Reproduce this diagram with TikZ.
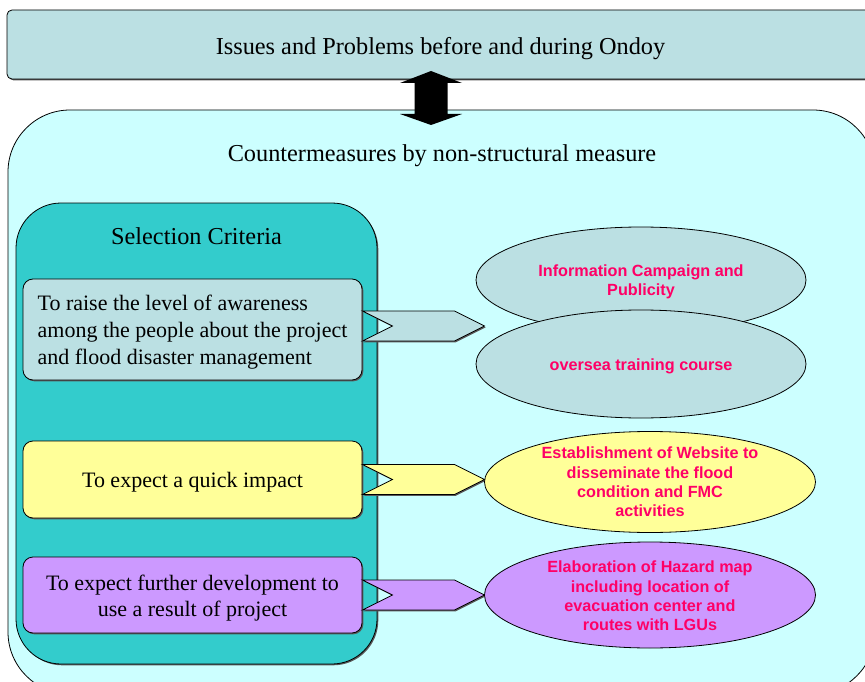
\documentclass[tikz,border=0pt]{standalone}
\usepackage{fontspec}
\setmainfont{Liberation Serif}
\newfontfamily\ellfont{Liberation Sans}
\usetikzlibrary{shapes.geometric,shadows,calc}

\definecolor{steelpale}{HTML}{BBE0E3}
\definecolor{paleaqua}{HTML}{CCFFFF}
\definecolor{tealbox}{HTML}{33CCCC}
\definecolor{lemon}{HTML}{FFFF99}
\definecolor{lilac}{HTML}{CC99FF}
\definecolor{hotred}{HTML}{FF0066}

\begin{document}
\begin{tikzpicture}[x=1pt,y=-1pt,
  shade box/.style={drop shadow={shadow xshift=1.3pt,shadow yshift=-1.3pt,fill=black!65,opacity=1}},
  panel/.style={draw=black,line width=0.8pt,rounded corners=#1,inner sep=0pt},
  headtext/.style={font=\fontsize{24.3}{28}\selectfont,anchor=base,inner sep=0pt},
  crittext/.style={font=\fontsize{22}{27}\selectfont,inner sep=0pt,yshift=-3pt},
  oval/.style={ellipse,draw=black,line width=0.8pt,inner sep=0pt,minimum width=330pt},
  ovaltext/.style={font=\ellfont\bfseries\fontsize{16.2}{19.2}\selectfont,text=hotred,align=center,inner sep=0pt},
  chev/.style={draw=black,line width=0.8pt,line join=miter,shade box}]

% page frame
\path[use as bounding box,clip] (0,0) rectangle (865,682);
\fill[white] (0,0) rectangle (865,682);

% heading band
\node[panel=5pt,shade box,fill=steelpale,minimum width=867pt,minimum height=69pt] (issues) at (440.5,44.5) {};
\node[headtext] (issuesT) at (440.5,54.5) {Issues and Problems before and during Ondoy};

% large countermeasure panel
\node[panel=62pt,fill=paleaqua,minimum width=867pt,minimum height=584pt] (outer) at (441.5,402) {};
\node[headtext] (outerT) at (442,161) {Countermeasures by non-structural measure};

% two-way arrow between heading and panel
\coordinate (arrUp) at (431,71);
\coordinate (arrDn) at (431,125);
\fill[black] (arrUp) -- ++(31,12) -- ++(-14.5,0) -- ++(0,31) -- ++(14.5,0)
  -- (arrDn) -- ++(-31,-11) -- ++(14.5,0) -- ++(0,-31) -- ++(-14.5,0) -- cycle;

% selection criteria column
\node[panel=45pt,shade box,fill=tealbox,minimum width=361pt,minimum height=461pt] (crit) at (196.5,433.5) {};
\node[headtext] (critT) at (196.5,244) {Selection Criteria};

\node[panel=10pt,shade box,fill=steelpale,minimum width=339pt,minimum height=101pt,
  label={[crittext,align=left]center:{To raise the level of awareness\\among the people about the project\\and flood disaster management}}]
  (c1) at (192.5,329.5) {};
\node[panel=10pt,shade box,fill=lemon,minimum width=339pt,minimum height=77pt,
  label={[crittext,align=center]center:{To expect a quick impact}}]
  (c2) at (192.5,479.5) {};
\node[panel=10pt,shade box,fill=lilac,minimum width=339pt,minimum height=76pt,
  label={[crittext,align=center,font=\fontsize{22}{25.5}\selectfont]center:{To expect further development to\\use a result of project}}]
  (c3) at (192.5,595) {};

% chevron connectors
\coordinate (s1) at ($(c1.east)+(0,-3.5)$);
\coordinate (s2) at (c2.east);
\coordinate (s3) at (c3.east);
\foreach \s/\col in {s1/steelpale,s2/lemon,s3/lilac}{
  \path[chev,fill=\col] ($(\s)+(0,-15)$) -- ++(92,0) -- ++(30,15) -- ++(-30,15)
    -- ++(-92,0) -- ++(30,-15) -- cycle;
}

% measures
\node[oval,fill=steelpale,minimum height=106pt,
  label={[ovaltext,yshift=-2pt]center:{Information Campaign and\\Publicity}}] (m1) at (641,280) {};
\node[oval,fill=steelpale,minimum height=108pt,
  label={[ovaltext,yshift=-2.5pt]center:{oversea training course}}] (m2) at (641,364) {};
\node[oval,fill=lemon,minimum width=331pt,minimum height=101pt,
  label={[ovaltext]center:{Establishment of Website to\\disseminate the flood\\condition and FMC\\activities}}] (m3) at (650,482) {};
\node[oval,fill=lilac,minimum width=331pt,minimum height=106pt,
  label={[ovaltext,yshift=-1pt]center:{Elaboration of Hazard map\\including location of\\evacuation center and\\routes with LGUs}}] (m4) at (650,595) {};

\end{tikzpicture}
\end{document}
